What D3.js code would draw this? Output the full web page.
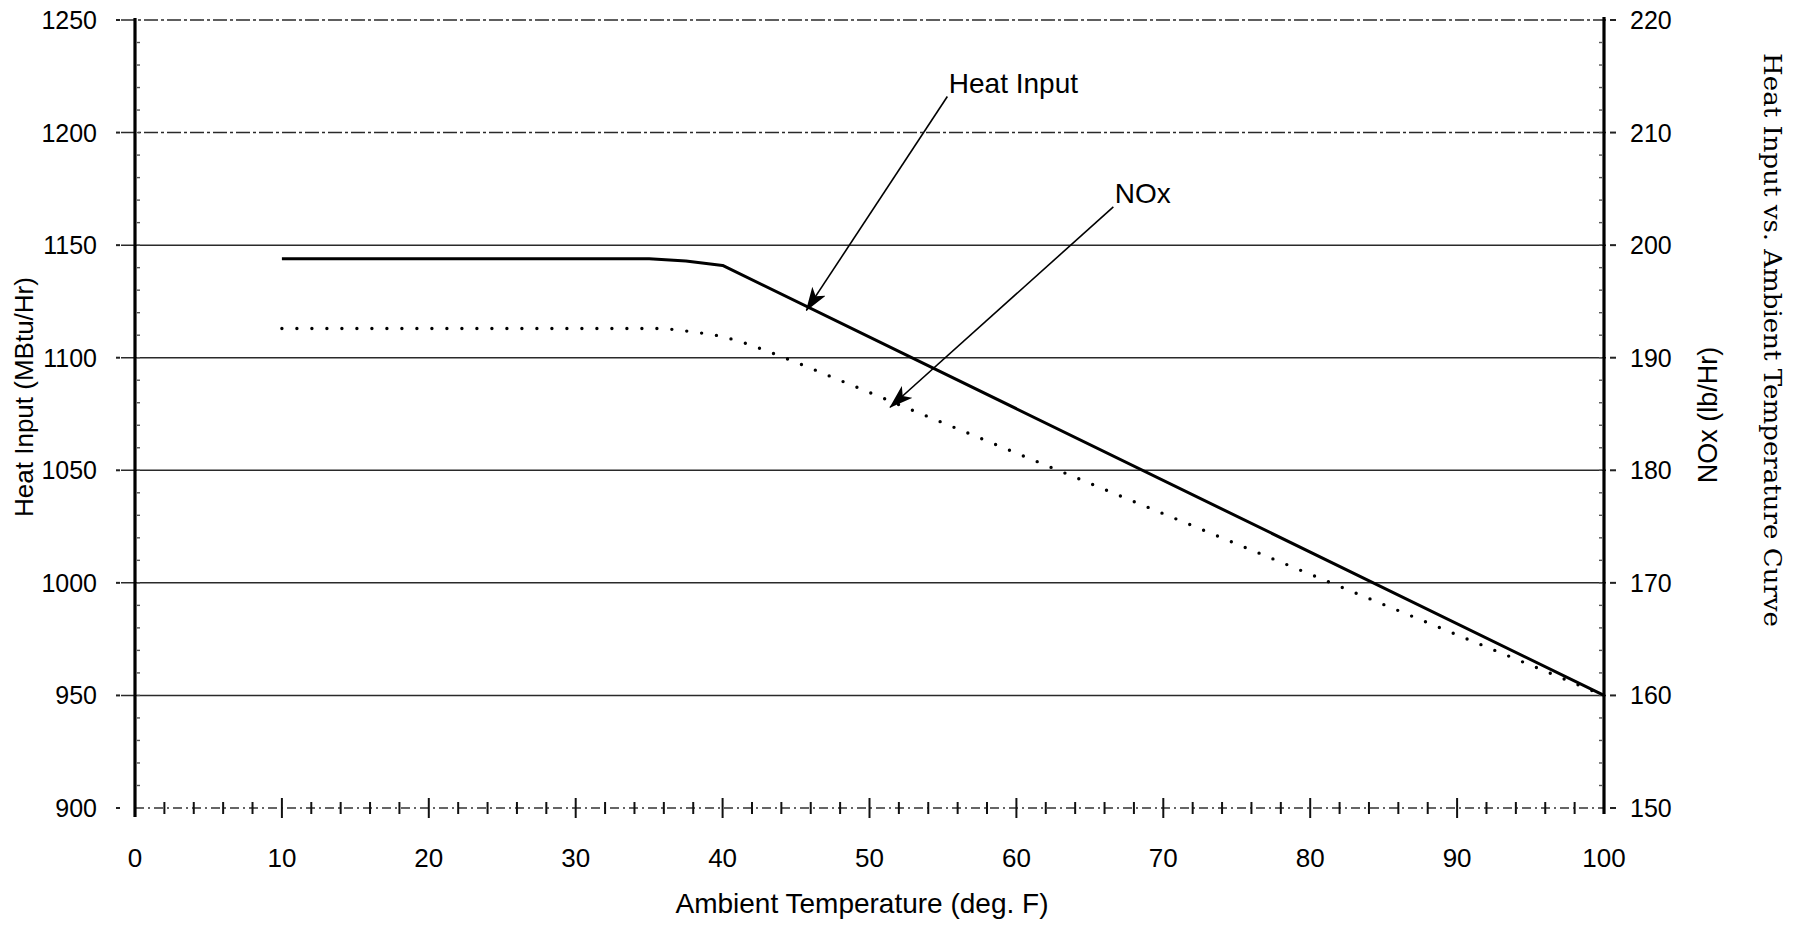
<!DOCTYPE html>
<html>
<head>
<meta charset="utf-8">
<script src="https://cdn.jsdelivr.net/npm/d3@7"></script>
<style>
  html, body { margin: 0; padding: 0; background: #fff; }
  svg { display: block; }
</style>
</head>
<body>
<svg id="chart" width="1802" height="926"></svg>
<script>
'use strict';

// values
var tempTicks = [0, 10, 20, 30, 40, 50, 60, 70, 80, 90, 100];
var heatTicks = [900, 950, 1000, 1050, 1100, 1150, 1200, 1250];
var noxTicks = [150, 160, 170, 180, 190, 200, 210, 220];

var heatTemp = [10, 35, 37.5, 40, 100];
var heatInput = [1144, 1144, 1143, 1141, 950];

var noxTemp = [10, 36, 38, 40, 42, 45, 100];
var noxValues = [192.6, 192.6, 192.3, 191.9, 191.1, 189.6, 160];

// callouts, in data units (temp, heat input)
var callouts = [
  { label: 'Heat Input', text: [55.4, 1222], from: [55.3, 1216], to: [45.7, 1121] },
  { label: 'NOx', text: [66.7, 1173], from: [66.6, 1167], to: [51.4, 1078] }
];

var sans = '"Liberation Sans", Arial, sans-serif';
var serif = '"DejaVu Serif", "Liberation Serif", serif';

var svg = d3.select('#chart');

var x = d3.scaleLinear().domain([0, 100]).range([135, 1604]);
var yHeat = d3.scaleLinear().domain([900, 1250]).range([808, 20]);
var yNox = d3.scaleLinear().domain([150, 220]).range([808, 20]);

function zip(xs, ys) {
  return xs.map(function(v, i) { return [v, ys[i]]; });
}

// horizontal grid lines, one per labelled heat input value
svg.append('g')
  .selectAll('line')
  .data(heatTicks.filter(function(d) { return d > 900; }))
  .join('line')
  .attr('x1', x(0) - 14)
  .attr('x2', x(100) + 2)
  .attr('y1', function(d) { return yHeat(d); })
  .attr('y2', function(d) { return yHeat(d); })
  .attr('stroke', '#2a2a2a')
  .attr('stroke-width', 1.5)
  .attr('stroke-dasharray', function(d) { return d >= 1200 ? '14 3 3 3' : null; });

// bottom axis: dashed base line with ticks every 2 degrees
var bottom = svg.append('g');
bottom.append('line')
  .attr('x1', x(0)).attr('x2', x(100))
  .attr('y1', yHeat(900)).attr('y2', yHeat(900))
  .attr('stroke', '#333')
  .attr('stroke-width', 1.4)
  .attr('stroke-dasharray', '9 4 2 4');

bottom.selectAll('line.tick')
  .data(d3.range(2, 100, 2))
  .join('line')
  .attr('class', 'tick')
  .attr('x1', function(d) { return x(d); })
  .attr('x2', function(d) { return x(d); })
  .attr('y1', function(d) { return yHeat(900) - (d % 10 === 0 ? 10 : 6); })
  .attr('y2', function(d) { return yHeat(900) + (d % 10 === 0 ? 10 : 6); })
  .attr('stroke', '#111')
  .attr('stroke-width', 2);

// left and right axis lines
svg.append('line')
  .attr('x1', x(0)).attr('x2', x(0))
  .attr('y1', yHeat(1250) - 2).attr('y2', yHeat(900) + 9)
  .attr('stroke', '#000').attr('stroke-width', 3.2);

svg.append('line')
  .attr('x1', x(100)).attr('x2', x(100))
  .attr('y1', yNox(220) - 3).attr('y2', yNox(150) + 6)
  .attr('stroke', '#000').attr('stroke-width', 3.2);

// small inside ticks along both axes
svg.append('g')
  .selectAll('line')
  .data(d3.range(910, 1250, 10))
  .join('line')
  .attr('x1', x(0) + 2).attr('x2', x(0) + 5)
  .attr('y1', function(d) { return yHeat(d); })
  .attr('y2', function(d) { return yHeat(d); })
  .attr('stroke', '#555').attr('stroke-width', 1.4);

svg.append('g')
  .selectAll('line')
  .data(d3.range(152, 220, 2))
  .join('line')
  .attr('x1', x(100) - 5).attr('x2', x(100) - 2)
  .attr('y1', function(d) { return yNox(d); })
  .attr('y2', function(d) { return yNox(d); })
  .attr('stroke', '#555').attr('stroke-width', 1.4);

// outside tick marks next to labels
svg.append('g')
  .selectAll('line')
  .data(heatTicks)
  .join('line')
  .attr('x1', x(0) - 19).attr('x2', x(0) - 15)
  .attr('y1', function(d) { return yHeat(d); })
  .attr('y2', function(d) { return yHeat(d); })
  .attr('stroke', '#222').attr('stroke-width', 2);

svg.append('g')
  .selectAll('line')
  .data(noxTicks)
  .join('line')
  .attr('x1', x(100) + 6).attr('x2', x(100) + 12)
  .attr('y1', function(d) { return yNox(d); })
  .attr('y2', function(d) { return yNox(d); })
  .attr('stroke', '#222').attr('stroke-width', 2);

// tick labels
svg.append('g')
  .selectAll('text')
  .data(heatTicks)
  .join('text')
  .attr('x', x(0) - 38)
  .attr('y', function(d) { return yHeat(d); })
  .attr('dy', '0.36em')
  .attr('text-anchor', 'end')
  .style('font-family', sans)
  .style('font-size', '25px')
  .text(function(d) { return d; });

svg.append('g')
  .selectAll('text')
  .data(noxTicks)
  .join('text')
  .attr('x', x(100) + 26)
  .attr('y', function(d) { return yNox(d); })
  .attr('dy', '0.36em')
  .attr('text-anchor', 'start')
  .style('font-family', sans)
  .style('font-size', '25px')
  .text(function(d) { return d; });

svg.append('g')
  .selectAll('text')
  .data(tempTicks)
  .join('text')
  .attr('x', function(d) { return x(d); })
  .attr('y', 858)
  .attr('dy', '0.36em')
  .attr('text-anchor', 'middle')
  .style('font-family', sans)
  .style('font-size', '26px')
  .text(function(d) { return d; });

// axis titles
svg.append('text')
  .attr('x', 862).attr('y', 903)
  .attr('dy', '0.36em')
  .attr('text-anchor', 'middle')
  .style('font-family', sans)
  .style('font-size', '28px')
  .text('Ambient Temperature (deg. F)');

svg.append('text')
  .attr('transform', 'translate(24,397) rotate(-90)')
  .attr('dy', '0.36em')
  .attr('text-anchor', 'middle')
  .style('font-family', sans)
  .style('font-size', '26px')
  .text('Heat Input (MBtu/Hr)');

svg.append('text')
  .attr('transform', 'translate(1707,415) rotate(-90)')
  .attr('dy', '0.36em')
  .attr('text-anchor', 'middle')
  .style('font-family', sans)
  .style('font-size', '27px')
  .text('NOx (lb/Hr)');

svg.append('text')
  .attr('transform', 'translate(1773,340) rotate(90)')
  .attr('dy', '0.36em')
  .attr('text-anchor', 'middle')
  .attr('textLength', 574)
  .attr('lengthAdjust', 'spacingAndGlyphs')
  .style('font-family', serif)
  .style('font-size', '25px')
  .text('Heat Input vs. Ambient Temperature Curve');

// series
var heatLine = d3.line()
  .x(function(d) { return x(d[0]); })
  .y(function(d) { return yHeat(d[1]); });

var noxLine = d3.line()
  .x(function(d) { return x(d[0]); })
  .y(function(d) { return yNox(d[1]); });

svg.append('path')
  .datum(zip(heatTemp, heatInput))
  .attr('d', heatLine)
  .attr('fill', 'none')
  .attr('stroke', '#000')
  .attr('stroke-width', 3)
  .attr('stroke-linejoin', 'round');

svg.append('path')
  .datum(zip(noxTemp, noxValues))
  .attr('d', noxLine)
  .attr('fill', 'none')
  .attr('stroke', '#000')
  .attr('stroke-width', 3.4)
  .attr('stroke-linecap', 'round')
  .attr('stroke-dasharray', '0 15');

// callout arrows
svg.append('defs').append('marker')
  .attr('id', 'head')
  .attr('viewBox', '0 0 24 16')
  .attr('refX', 23).attr('refY', 8)
  .attr('markerWidth', 24).attr('markerHeight', 16)
  .attr('markerUnits', 'userSpaceOnUse')
  .attr('orient', 'auto')
  .append('path')
  .attr('d', 'M0,0 L24,8 L0,16 L6,8 Z')
  .attr('fill', '#000');

var notes = svg.append('g');
notes.selectAll('line')
  .data(callouts)
  .join('line')
  .attr('x1', function(d) { return x(d.from[0]); })
  .attr('y1', function(d) { return yHeat(d.from[1]); })
  .attr('x2', function(d) { return x(d.to[0]); })
  .attr('y2', function(d) { return yHeat(d.to[1]); })
  .attr('stroke', '#000')
  .attr('stroke-width', 1.6)
  .attr('marker-end', 'url(#head)');

notes.selectAll('text')
  .data(callouts)
  .join('text')
  .attr('x', function(d) { return x(d.text[0]); })
  .attr('y', function(d) { return yHeat(d.text[1]); })
  .attr('dy', '0.36em')
  .style('font-family', sans)
  .style('font-size', '28px')
  .text(function(d) { return d.label; });
</script>
</body>
</html>
